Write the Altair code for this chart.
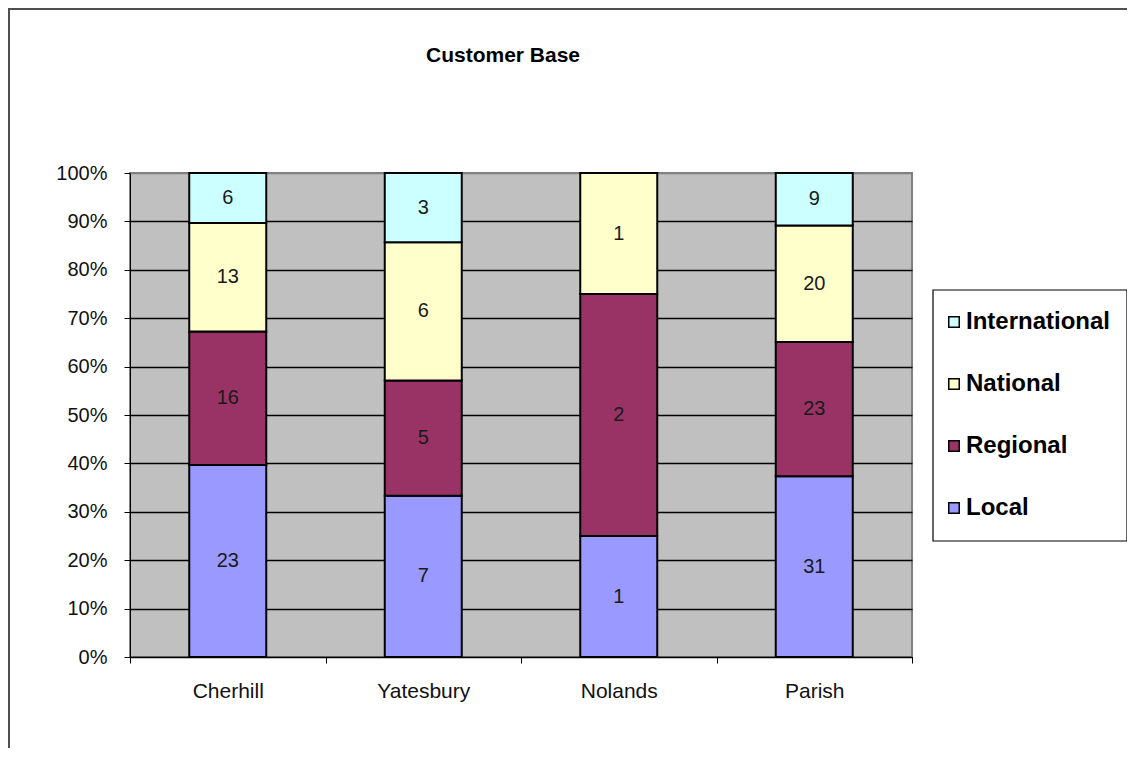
import altair as alt
import pandas as pd

sites = ["Cherhill", "Yatesbury", "Nolands", "Parish"]
categories = ["Local", "Regional", "National", "International"]
local = [23, 7, 1, 31]
regional = [16, 5, 2, 23]
national = [13, 6, 1, 20]
international = [6, 3, 0, 9]
colors = {"Local": "#9999FF", "Regional": "#993366", "National": "#FFFFCC", "International": "#CCFFFF"}
title_text = ["Customer Base"]

series = {"Local": local, "Regional": regional, "National": national, "International": international}
rows = []
for ci, cat in enumerate(categories):
    for si, site in enumerate(sites):
        rows.append({"site": site, "category": cat, "value": series[cat][si], "ord": ci})
df = pd.DataFrame(rows)

legend_order = list(reversed(categories))
FONT = "Liberation Sans"

base = alt.Chart(df).transform_stack(
    stack="value",
    groupby=["site"],
    as_=["y0", "y1"],
    offset="normalize",
    sort=[alt.SortField("ord", order="ascending")],
).transform_calculate(mid="(datum.y0 + datum.y1) / 2")

xenc = alt.X(
    "site:N",
    sort=sites,
    scale=alt.Scale(paddingInner=0, paddingOuter=0),
    axis=alt.Axis(
        title=None, labelAngle=0, tickBand="extent", tickSize=6, tickColor="black",
        domainColor="black", labelFont=FONT, labelFontSize=21, labelColor="#111",
        labelPadding=17, grid=False,
    ),
)

bars = base.mark_bar(size=77, stroke="black", strokeWidth=2).encode(
    x=xenc,
    y=alt.Y(
        "y0:Q",
        scale=alt.Scale(domain=[0, 1], nice=False),
        axis=alt.Axis(
            title=None, format=".0%", values=[i / 10 for i in range(11)],
            tickSize=6, tickColor="black", domainColor="black",
            labelFont=FONT, labelFontSize=20, labelColor="#111", labelPadding=17,
            grid=True,
            gridColor=alt.condition("datum.value >= 1", alt.value("#808080"), alt.value("black")),
            gridWidth=1.3,
        ),
    ),
    y2="y1:Q",
    color=alt.Color(
        "category:N",
        scale=alt.Scale(domain=legend_order, range=[colors[c] for c in legend_order]),
        legend=alt.Legend(
            title=None, orient="none", legendX=812, legendY=137,
            padding=0, rowPadding=38,
            labelFont=FONT, labelFontWeight="bold", labelFontSize=24, labelColor="black",
            labelOffset=0, symbolType="square", symbolSize=110,
            symbolStrokeColor="black", symbolStrokeWidth=1.5,
        ),
    ),
)

labels = base.transform_filter("datum.value > 0").mark_text(
    font=FONT, fontSize=20, color="#1a1a1a", baseline="middle", align="center"
).encode(
    x=alt.X("site:N", sort=sites),
    y=alt.Y("mid:Q"),
    text="value:Q",
)

# decorative chart frame and legend box
frame = alt.Chart(alt.Data(values=[{"f": 1}])).mark_rect(
    fill=None, stroke="#505050", strokeWidth=2
).encode(
    x=alt.value(-121), x2=alt.value(1400), y=alt.value(-164), y2=alt.value(1200)
)

legend_box = alt.Chart(alt.Data(values=[{"f": 1}])).mark_rect(
    fill="white", stroke="black", strokeWidth=1.2
).encode(
    x=alt.value(803), x2=alt.value(997), y=alt.value(117), y2=alt.value(368)
)

title = alt.Chart(alt.Data(values=[{"t": t} for t in title_text])).mark_text(
    font=FONT, fontSize=21, fontWeight="bold", color="black",
    align="center", baseline="alphabetic",
).encode(
    x=alt.value(373), y=alt.value(-111), text="t:N"
)

chart = alt.layer(frame, legend_box, title, bars, labels).properties(
    width=782,
    height=484,
    autosize=alt.AutoSizeParams(type="none"),
    padding={"left": 122, "top": 165, "right": 215, "bottom": 91},
).configure_view(
    fill="#C0C0C0", stroke="#808080", strokeWidth=2
)

chart.save("out.html", embed_options={"renderer": "svg", "actions": False})
